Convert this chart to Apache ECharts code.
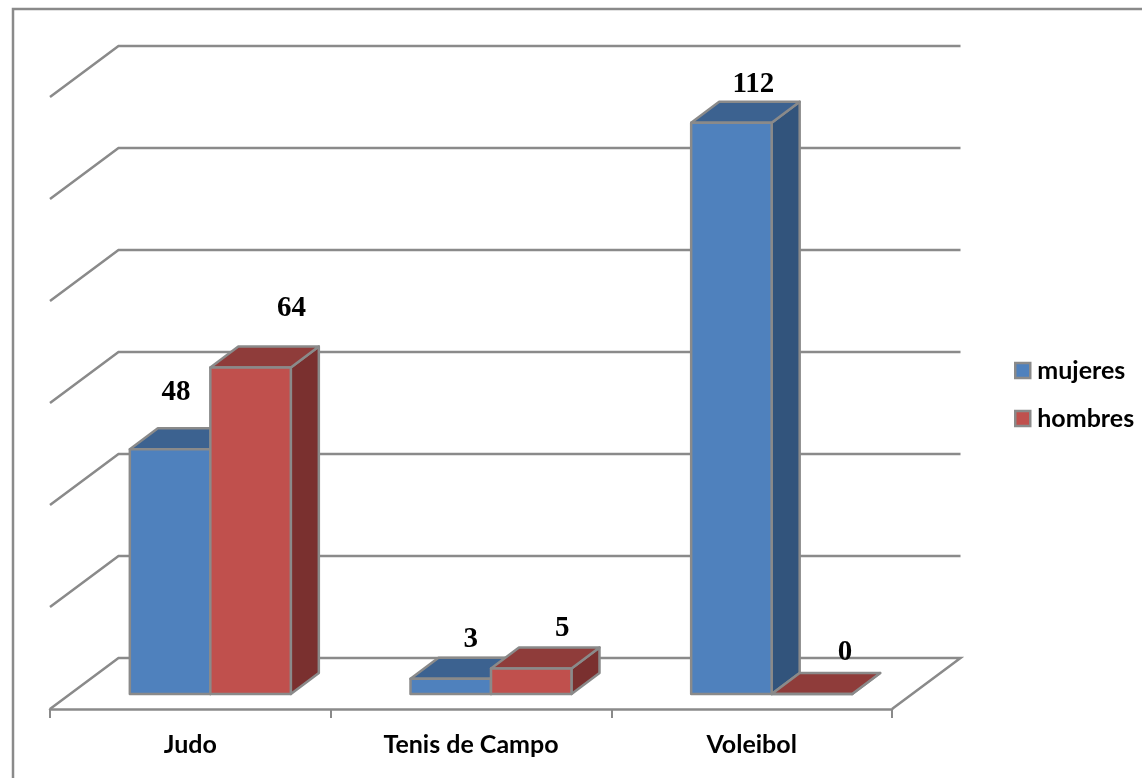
<!DOCTYPE html>
<html>
<head>
<meta charset="utf-8">
<style>html,body{margin:0;padding:0;background:#fff}#c{width:1142px;height:778px}</style>
<script src="https://cdn.jsdelivr.net/npm/echarts@6/dist/echarts.min.js"></script>
</head>
<body>
<div id="c"></div>
<script>
const categories = ['Judo', 'Tenis de Campo', 'Voleibol'];
const mujeres = [48, 3, 112];
const hombres = [64, 5, 0];
const yTicks = [0, 20, 40, 60, 80, 100, 120];

const GREY = '#8A8A8A';
const LINE_W = 2.5;
const WALL = { dx: 68.5, dy: -51 };
const FLOOR = { dx: 20, dy: -15 };
const BAR = { dx: 28, dy: -21 };
const BAR_BAND_RATIO = 0.2868;
const SANS = 'Lato, "Open Sans", sans-serif';
const SERIF = '"Liberation Serif", serif';

const labelOffsets = {
  mujeres: [[6, -57], [20, -39], [22, -38]],
  hombres: [[41, -59], [31, -40], [33, -41]]
};

function renderWall(params, api) {
  const v = api.value(1);
  const cs = params.coordSys;
  const y = api.coord([0, v])[1];
  const left = cs.x, right = cs.x + cs.width;
  const pts = [[left, y], [left + WALL.dx, y + WALL.dy], [right + WALL.dx, y + WALL.dy]];
  if (v === 0) pts.push([right, y]);
  return {
    type: 'polyline',
    shape: { points: pts },
    style: { stroke: GREY, lineWidth: LINE_W, fill: null }
  };
}

function barRenderer(name, side, colors) {
  return function (params, api) {
    const idx = api.value(0);
    const val = api.value(1);
    const band = api.size([1, 0])[0];
    const w = band * BAR_BAND_RATIO;
    const c0 = api.coord([idx, 0]);
    const c1 = api.coord([idx, val]);
    const x0 = c0[0] + FLOOR.dx + (side < 0 ? -w : 0);
    const x1 = x0 + w;
    const yb = c0[1] + FLOOR.dy;
    const yt = c1[1] + FLOOR.dy;
    const dx = BAR.dx, dy = BAR.dy;
    const stroke = { stroke: GREY, lineWidth: LINE_W, lineJoin: 'round' };
    const off = labelOffsets[name][params.dataIndex];
    return {
      type: 'group',
      children: [
        { type: 'polygon', shape: { points: [[x1, yb], [x1 + dx, yb + dy], [x1 + dx, yt + dy], [x1, yt]] },
          style: Object.assign({ fill: colors.side }, stroke) },
        { type: 'polygon', shape: { points: [[x0, yt], [x0 + dx, yt + dy], [x1 + dx, yt + dy], [x1, yt]] },
          style: Object.assign({ fill: colors.top }, stroke) },
        { type: 'rect', shape: { x: x0, y: yt, width: w, height: yb - yt },
          style: Object.assign({ fill: colors.front }, stroke) },
        { type: 'text', z2: 100, style: {
            x: (x0 + x1) / 2 + off[0], y: yt + off[1],
            text: String(val), align: 'center', verticalAlign: 'middle',
            font: 'bold 29px ' + SERIF, fill: '#000'
        } }
      ]
    };
  };
}

const blue = { front: '#4F81BD', top: '#3C6290', side: '#32547C' };
const red = { front: '#C0504D', top: '#8F3C3A', side: '#7A302F' };

const chart = echarts.init(document.getElementById('c'), null, { renderer: 'canvas' });
chart.setOption({
  animation: false,
  backgroundColor: '#fff',
  grid: { left: 50, top: 97, width: 842, height: 612 },
  xAxis: {
    type: 'category', data: categories,
    axisLine: { lineStyle: { color: GREY, width: LINE_W } },
    axisTick: { show: true, length: 9, lineStyle: { color: GREY, width: 2 } },
    axisLabel: { color: '#000', fontFamily: SANS, fontWeight: 'bold', fontSize: 25, margin: 23 }
  },
  yAxis: {
    type: 'value', min: 0, max: 120, interval: 20,
    axisLine: { show: false }, axisTick: { show: false },
    axisLabel: { show: false }, splitLine: { show: false }
  },
  legend: {
    data: ['mujeres', 'hombres'],
    orient: 'vertical', left: 1014, top: 358, padding: 0, itemWidth: 15, itemHeight: 15, itemGap: 23,
    icon: 'rect',
    itemStyle: { borderColor: GREY, borderWidth: LINE_W },
    textStyle: { color: '#000', fontFamily: SANS, fontWeight: 'bold', fontSize: 25, padding: [0, 0, 0, 2] }
  },
  graphic: [{
    type: 'polyline', silent: true,
    shape: { points: [[13, 778], [13, 9], [1142, 9]] },
    style: { stroke: GREY, lineWidth: LINE_W, fill: null }
  }],
  series: [
    { type: 'custom', name: 'wall', silent: true, z: 1,
      data: yTicks.map(v => [0, v]), renderItem: renderWall, encode: { x: 0, y: 1 } },
    { type: 'custom', name: 'mujeres', z: 2, itemStyle: { color: blue.front },
      data: mujeres.map((v, i) => [i, v]), renderItem: barRenderer('mujeres', -1, blue), encode: { x: 0, y: 1 } },
    { type: 'custom', name: 'hombres', z: 3, itemStyle: { color: red.front },
      data: hombres.map((v, i) => [i, v]), renderItem: barRenderer('hombres', 1, red), encode: { x: 0, y: 1 } }
  ]
});
</script>
</body>
</html>
